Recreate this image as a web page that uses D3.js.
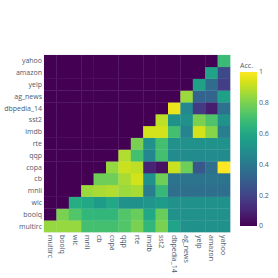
<!DOCTYPE html>
<html>
<head>
<meta charset="utf-8">
<script src="https://cdn.jsdelivr.net/npm/d3@7"></script>
<style>
  body { margin: 0; background: #fff; }
  text { font-family: "Open Sans", sans-serif; fill: #4a5a70; }
</style>
</head>
<body>
<svg id="chart" width="278" height="278"></svg>
<script>
const tasks = ["multirc", "boolq", "wic", "mnli", "cb", "copa", "qqp", "rte", "imdb", "sst2", "dbpedia_14", "ag_news", "yelp", "amazon", "yahoo"]

// one row per y label (bottom to top), one value per x label
const accMultirc = [0.84, 0.84, 0.84, 0.70, 0.70, 0.70, 0.73, 0.80, 0.66, 0.80, 0.58, 0.50, 0.50, 0.50, 0.50]
const accBoolq   = [0, 0.80, 0.73, 0.66, 0.66, 0.66, 0.73, 0.77, 0.60, 0.77, 0.50, 0.50, 0.50, 0.50, 0.50]
const accWic     = [0, 0, 0.62, 0.60, 0.55, 0.60, 0.50, 0.50, 0.52, 0.55, 0.50, 0.50, 0.50, 0.50, 0.50]
const accMnli    = [0, 0, 0, 0.85, 0.87, 0.88, 0.85, 0.87, 0.42, 0.67, 0.36, 0.36, 0.36, 0.36, 0.36]
const accCb      = [0, 0, 0, 0, 0.78, 0.78, 0.87, 0.93, 0.50, 0.78, 0.38, 0.38, 0.38, 0.38, 0.38]
const accCopa    = [0, 0, 0, 0, 0, 0.84, 0.92, 0.90, 0.10, 0.04, 0.92, 0.78, 0.27, 0.36, 1.0]
const accQqp     = [0, 0, 0, 0, 0, 0, 0.88, 0.70, 0.46, 0.70, 0.48, 0.48, 0.48, 0.48, 0.48]
const accRte     = [0, 0, 0, 0, 0, 0, 0, 0.80, 0.50, 0.70, 0.50, 0.50, 0.50, 0.50, 0.50]
const accImdb    = [0, 0, 0, 0, 0, 0, 0, 0, 0.93, 0.93, 0.70, 0.45, 0.93, 0.82, 0.42]
const accSst2    = [0, 0, 0, 0, 0, 0, 0, 0, 0, 0.90, 0.50, 0.50, 0.80, 0.72, 0.50]
const accDbpedia = [0, 0, 0, 0, 0, 0, 0, 0, 0, 0, 0.97, 0.47, 0.17, 0.08, 0.37]
const accAgNews  = [0, 0, 0, 0, 0, 0, 0, 0, 0, 0, 0, 0.85, 0.32, 0.32, 0.57]
const accYelp    = [0, 0, 0, 0, 0, 0, 0, 0, 0, 0, 0, 0, 0.57, 0.35, 0.18]
const accAmazon  = [0, 0, 0, 0, 0, 0, 0, 0, 0, 0, 0, 0, 0, 0.58, 0.22]
const accYahoo   = [0, 0, 0, 0, 0, 0, 0, 0, 0, 0, 0, 0, 0, 0, 0.68]

const rows = [accMultirc, accBoolq, accWic, accMnli, accCb, accCopa, accQqp, accRte,
              accImdb, accSst2, accDbpedia, accAgNews, accYelp, accAmazon, accYahoo]
const colorTicks = [0, 0.2, 0.4, 0.6, 0.8, 1]

const svg = d3.select("#chart")
const plotL = 44, plotR = 230, plotT = 55, plotB = 232

const x = d3.scaleBand().domain(tasks).range([plotL, plotR])
const y = d3.scaleBand().domain(tasks).range([plotB, plotT])
const color = d3.scaleSequential(d3.interpolateViridis).domain([0, 1])

const cells = []
rows.forEach(function (r, i) {
  r.forEach(function (v, j) {
    cells.push({ row: tasks[i], col: tasks[j], v: v })
  })
})

svg.append("rect")
  .attr("x", plotL - 0.5).attr("y", plotT - 0.5)
  .attr("width", plotR - plotL + 1).attr("height", plotB - plotT + 1)
  .attr("fill", "#e5ecf6")

svg.append("g")
  .selectAll("rect")
  .data(cells)
  .enter()
  .append("rect")
  .attr("x", d => x(d.col))
  .attr("y", d => y(d.row))
  .attr("width", x.bandwidth() + 0.3)
  .attr("height", y.bandwidth() + 0.3)
  .attr("fill", d => color(d.v))

// y labels
svg.append("g")
  .selectAll("text")
  .data(tasks)
  .enter()
  .append("text")
  .attr("x", plotL - 2)
  .attr("y", d => y(d) + y.bandwidth() / 2)
  .attr("dy", "0.35em")
  .attr("text-anchor", "end")
  .attr("font-size", 7)
  .text(d => d)

// x labels, rotated
svg.append("g")
  .selectAll("text")
  .data(tasks)
  .enter()
  .append("text")
  .attr("transform", d => "translate(" + (x(d) + x.bandwidth() / 2) + "," + (plotB + 3) + ") rotate(90)")
  .attr("dy", "0.35em")
  .attr("text-anchor", "start")
  .attr("font-size", 7)
  .text(d => d)

// colorbar
const cbX = 240, cbW = 17, cbTop = 72, cbBottom = 226
const cy = d3.scaleLinear().domain([0, 1]).range([cbBottom, cbTop])
const defs = svg.append("defs")
const grad = defs.append("linearGradient")
  .attr("id", "vir").attr("x1", 0).attr("y1", 1).attr("x2", 0).attr("y2", 0)
d3.range(0, 1.001, 0.05).forEach(function (t) {
  grad.append("stop").attr("offset", t).attr("stop-color", color(t))
})
svg.append("rect")
  .attr("x", cbX).attr("y", cbTop)
  .attr("width", cbW).attr("height", cbBottom - cbTop)
  .attr("fill", "url(#vir)")

svg.append("g")
  .selectAll("text")
  .data(colorTicks)
  .enter()
  .append("text")
  .attr("x", cbX + cbW + 2)
  .attr("y", d => cy(d))
  .attr("dy", "0.35em")
  .attr("font-size", 7)
  .text(d => d3.format("~g")(d))

svg.append("text")
  .attr("x", cbX)
  .attr("y", 68)
  .attr("font-size", 7)
  .text("Acc.")
</script>
</body>
</html>
